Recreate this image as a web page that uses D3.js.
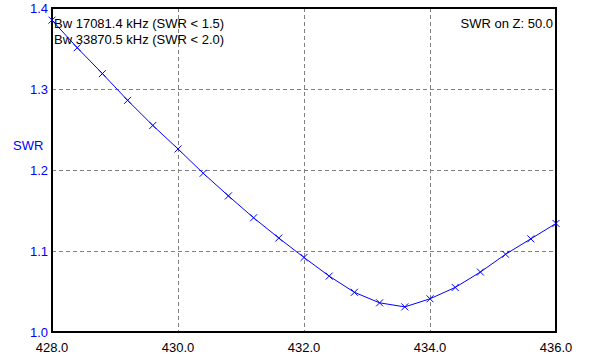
<!DOCTYPE html>
<html>
<head>
<meta charset="utf-8">
<script src="https://cdn.jsdelivr.net/npm/d3@7"></script>
<style>
  body { margin: 0; background: #fff; }
  svg text { font-family: "Liberation Sans", Arial, sans-serif; font-size: 13px; }
</style>
</head>
<body>
<svg id="chart" width="591" height="361"></svg>
<script>
// frequency in MHz, sampled every 0.4 MHz
const freqs = [428.0, 428.4, 428.8, 429.2, 429.6, 430.0, 430.4, 430.8, 431.2, 431.6,
               432.0, 432.4, 432.8, 433.2, 433.6, 434.0, 434.4, 434.8, 435.2, 435.6, 436.0];
const swr = [1.385, 1.351, 1.319, 1.286, 1.255, 1.226, 1.196, 1.168, 1.141, 1.116,
             1.092, 1.069, 1.049, 1.036, 1.031, 1.041, 1.055, 1.074, 1.096, 1.115, 1.134];
const xTicks = [428, 430, 432, 434, 436];
const yTicks = [1.0, 1.1, 1.2, 1.3, 1.4];
const infoLines = ["Bw 17081.4 kHz (SWR < 1.5)", "Bw 33870.5 kHz (SWR < 2.0)"];
const zLabel = "SWR on Z: 50.0";

const svg = d3.select("#chart");
const plotLeft = 52, plotRight = 556, plotTop = 8, plotBottom = 332;

const x = d3.scaleLinear().domain([428, 436]).range([plotLeft, plotRight]);
const y = d3.scaleLinear().domain([1.0, 1.4]).range([plotBottom, plotTop]);

// grid lines (inner only)
let grid = svg.append("g").attr("stroke", "#808080").attr("stroke-dasharray", "4,3");
grid.selectAll("line.v")
    .data(xTicks.slice(1, -1))
    .enter().append("line")
    .attr("x1", d => Math.round(x(d)) + 0.5).attr("x2", d => Math.round(x(d)) + 0.5)
    .attr("y1", plotTop).attr("y2", plotBottom);
grid.selectAll("line.h")
    .data(yTicks.slice(1, -1))
    .enter().append("line")
    .attr("y1", d => Math.round(y(d)) + 0.5).attr("y2", d => Math.round(y(d)) + 0.5)
    .attr("x1", plotLeft).attr("x2", plotRight);

// frame
svg.append("rect")
    .attr("x", plotLeft).attr("y", plotTop)
    .attr("width", plotRight - plotLeft).attr("height", plotBottom - plotTop)
    .attr("fill", "none").attr("stroke", "#000").attr("stroke-width", 2);

// tick labels
svg.selectAll("text.yt")
    .data(yTicks)
    .enter().append("text")
    .attr("x", plotLeft - 4).attr("y", d => y(d) + 5)
    .attr("text-anchor", "end").attr("fill", "#0000ff")
    .text(d => d.toFixed(1));

svg.selectAll("text.xt")
    .data(xTicks)
    .enter().append("text")
    .attr("x", d => x(d)).attr("y", 352)
    .attr("text-anchor", "middle").attr("fill", "#000")
    .text(d => d.toFixed(1));

svg.append("text").attr("x", 13).attr("y", 150)
    .attr("fill", "#0000ff").text("SWR");

// curve
const line = d3.line()
    .x((d, i) => x(freqs[i]))
    .y(d => y(d));

let plot = svg.append("g");
plot.append("path")
    .datum(swr)
    .attr("d", line)
    .attr("fill", "none").attr("stroke", "#0000ff").attr("stroke-width", 1);

// X markers
plot.selectAll("path.mk")
    .data(swr)
    .enter().append("path")
    .attr("d", (d, i) => {
        let cx = x(freqs[i]), cy = y(d), s = 3.5;
        return `M${cx - s},${cy - s}L${cx + s},${cy + s}M${cx - s},${cy + s}L${cx + s},${cy - s}`;
    })
    .attr("stroke", "#0000ff").attr("stroke-width", 1);

// annotations
svg.selectAll("text.info")
    .data(infoLines)
    .enter().append("text")
    .attr("x", 54).attr("y", (d, i) => 28 + i * 16)
    .attr("fill", "#000")
    .text(d => d);

svg.append("text").attr("x", 553).attr("y", 28)
    .attr("text-anchor", "end").attr("fill", "#000")
    .text(zLabel);
</script>
</body>
</html>
